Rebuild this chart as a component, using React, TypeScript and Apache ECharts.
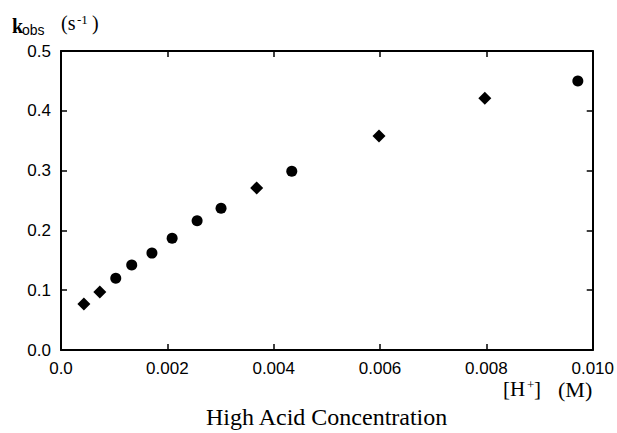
import React, { useEffect, useRef } from "react";
import * as echarts from "echarts";

const circleX = [0.00103, 0.00133, 0.00171, 0.00209, 0.00256, 0.00301, 0.00434, 0.00972];
const circleY = [0.120, 0.142, 0.162, 0.187, 0.216, 0.237, 0.299, 0.450];
const diamondX = [0.00043, 0.00073, 0.00368, 0.00598, 0.00797];
const diamondY = [0.077, 0.097, 0.271, 0.358, 0.421];

const xMin = 0, xMax = 0.01, xInterval = 0.002;
const yMin = 0, yMax = 0.5, yInterval = 0.1;

const serif = '"Liberation Serif", "Times New Roman", serif';
const sans = '"Liberation Sans", Arial, sans-serif';

export default function App() {
  const ref = useRef<HTMLDivElement>(null);
  useEffect(() => {
    if (!ref.current) return;
    const chart = echarts.init(ref.current, null, { renderer: "svg" });
    const axisLine = { show: true, onZero: false, lineStyle: { color: "#000", width: 2 } };
    const tick = { show: true, inside: true, length: 6, lineStyle: { color: "#000", width: 1.5 } };
    chart.setOption({
      animation: false,
      backgroundColor: "#fff",
      grid: { left: 61, right: 24, top: 51, bottom: 83, containLabel: false },
      xAxis: [
        {
          type: "value", min: xMin, max: xMax, interval: xInterval,
          axisLine, axisTick: tick, splitLine: { show: false },
          axisLabel: {
            color: "#000", fontFamily: sans, fontSize: 17, margin: 10,
            formatter: (v: number) => (v === 0 ? "0.0" : v.toFixed(3)),
          },
        },
        {
          type: "value", position: "top", min: xMin, max: xMax, interval: xInterval,
          axisLine, axisTick: tick, splitLine: { show: false }, axisLabel: { show: false },
        },
      ],
      yAxis: [
        {
          type: "value", min: yMin, max: yMax, interval: yInterval,
          axisLine, axisTick: tick, splitLine: { show: false },
          axisLabel: {
            color: "#000", fontFamily: sans, fontSize: 17, margin: 10,
            formatter: (v: number) => v.toFixed(1),
          },
        },
        {
          type: "value", position: "right", min: yMin, max: yMax, interval: yInterval,
          axisLine, axisTick: tick, splitLine: { show: false }, axisLabel: { show: false },
        },
      ],
      series: [
        {
          type: "scatter", symbol: "circle", symbolSize: 11,
          itemStyle: { color: "#000", opacity: 1 },
          data: circleX.map((x, i) => [x, circleY[i]]),
        },
        {
          type: "scatter", symbol: "diamond", symbolSize: [13, 13],
          itemStyle: { color: "#000", opacity: 1 },
          data: diamondX.map((x, i) => [x, diamondY[i]]),
        },
      ],
      graphic: [
        { type: "text", left: 12, top: 16, style: { text: "k", font: `bold 20px ${serif}`, fill: "#000" } },
        { type: "text", left: 22, top: 23, style: { text: "obs", font: `14px ${sans}`, fill: "#000" } },
        { type: "text", left: 61, top: 13, style: { text: "(s", font: `20px ${serif}`, fill: "#000" } },
        { type: "text", left: 77, top: 13, style: { text: "-1", font: `13px ${serif}`, fill: "#000" } },
        { type: "text", left: 92, top: 13, style: { text: ")", font: `20px ${serif}`, fill: "#000" } },
        { type: "text", left: 503, top: 378, style: { text: "[H", font: `21px ${serif}`, fill: "#000" } },
        { type: "text", left: 527, top: 378, style: { text: "+", font: `13px ${serif}`, fill: "#000" } },
        { type: "text", left: 534, top: 378, style: { text: "]", font: `21px ${serif}`, fill: "#000" } },
        { type: "text", left: 558, top: 378, style: { text: "(M)", font: `22px ${serif}`, fill: "#000" } },
        { type: "text", left: 206, top: 405, style: { text: "High Acid Concentration", font: `24px ${serif}`, fill: "#000" } },
      ],
    });
    return () => chart.dispose();
  }, []);
  return <div ref={ref} style={{ width: 617, height: 433, position: "absolute", left: 0, top: 0 }} />;
}
